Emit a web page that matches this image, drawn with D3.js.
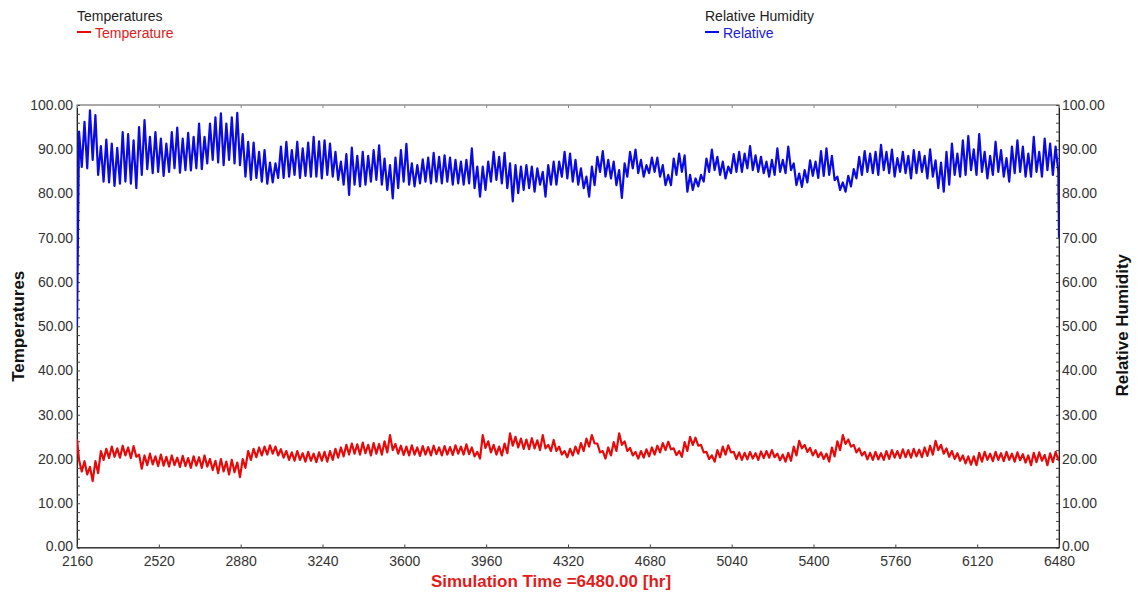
<!DOCTYPE html>
<html><head><meta charset="utf-8">
<script src="https://cdn.jsdelivr.net/npm/d3@7"></script>
<style>body{margin:0;background:#fff} svg{display:block;font-family:"Liberation Sans",Arial,sans-serif}</style>
</head><body><svg id="c" width="1138" height="595"></svg>
<script>
// ---- data ----
const xTicks = [2160,2520,2880,3240,3600,3960,4320,4680,5040,5400,5760,6120,6480];
const yTicks = [0,10,20,30,40,50,60,70,80,90,100];
const startHour = 2160, endHour = 6480;

// one value per simulated day (180 days), daily peak and daily trough
const humidityDailyMax = [
94,96.2,98.8,97.7,90.7,92.2,91.3,90.3,93.9,93.4,92,95,96.6,92.8,93.9,92.4,91.3,93.9,94.9,92.4,
93.7,92.8,95.8,92.8,95.8,97.2,98.1,95.8,97.2,98.2,93.4,91.7,91.5,89.4,89.8,87,86.8,90.6,91.7,89.8,
91.7,90.2,91.5,92.8,91.8,
92,91.3,89.4,87.2,88.9,90.4,88.5,89.4,88.5,89.8,90.9,87.9,86.4,88.1,89.8,91.2,86.8,86.4,87.7,88.1,
89.2,88.3,88.6,88.1,87.6,87.2,87.6,90.2,86.1,86.1,87.2,89.4,88.3,89.2,86.8,86.4,86.1,86.4,86.1,85.7,
84.9,86.4,87.2,87.2,
89.4,89,87.6,85.7,83.8,86.1,88.3,89.6,87.6,87.2,85.3,86.8,89.4,89.9,87.6,86.4,88.1,88.1,86.4,84.2,
87.9,89,88.6,84.2,83.4,84.2,87.9,89.9,88.3,87.2,86.1,88.9,89.4,89,90.7,88.6,88.3,87.2,87.6,90.2,
87.6,90.6,86.8,84.5,
85.3,87.5,87.2,89.6,90.2,88.5,83.8,82.5,84,85.5,88.3,89.6,89,89.4,91,89.4,89.9,88,89.4,88.5,
89.8,89.4,88.5,90,87.5,87,89.4,91.3,89,92,93,90,93.4,89.4,88.5,91.7,89.8,88,90.6,92,
90.6,89,92.8,89.4,92.4,91.3,90.6];
const humidityDailyMin = [
86,85.7,87.6,84.2,82.7,82.5,81.7,82.2,82.7,82.2,81.2,84.2,85.5,84.6,84.9,84,84.9,85.7,84.7,85.3,
85.2,85.7,85.5,86.8,87.6,87,86.4,87.6,86.8,86.4,83.8,83.1,83.5,82.7,82.2,82.5,83.5,83.5,83.8,84.2,
83.5,84,83.8,83.8,83.4,
84.2,83.8,83.1,82,79.7,82,81.6,82,82.7,83.1,82,80.8,78.9,81.2,82.7,82,81.6,82.3,82.7,82.3,
82.7,82.3,82.7,82,82.3,82,82.3,81.2,79.3,80.8,82.7,83.1,82.3,81.2,78.2,80.1,80.8,81.2,80.4,82,
79.3,82,82,83.8,
83.4,82.7,82,81.2,79.3,81.9,84.9,83.8,83.4,81.9,79,83.8,85.7,84.6,83.8,84.6,84.9,83.8,81.9,81.9,
84.2,84.9,80.4,80.8,81.6,82.7,84.9,85.3,84.2,83.4,84.6,84.9,84.9,85.7,85.3,84.9,84.6,83.8,84.2,84.9,
84.6,85.3,81.9,81.5,
82.5,84,83.5,84,84.2,83,80.8,80.4,81.6,83.4,84.2,84.9,84.6,84.2,85.3,84.6,83.8,84.9,84.6,83.4,
84.6,84.9,83.4,83.8,81.2,80.4,82,84.2,83.8,84.2,85.3,84.2,84.9,83.4,84.2,84.9,83.8,82.7,84.6,84.9,
83.8,83.8,84.9,83.8,85.3,84.2,85];
const humidityFirst = 50, humidityLast = 70;

const temperatureDailyMax = [
19.8,19.5,18.2,19.5,21.8,22.3,22.8,22.4,23.0,22.6,22.9,21.0,20.8,21.2,20.6,21.0,20.5,20.8,20.3,20.7,
20.2,20.6,20.4,20.8,20.0,19.6,20.0,19.4,19.8,19.2,20.0,21.8,22.3,22.6,22.8,23.1,22.8,22.2,21.8,21.5,
21.8,21.3,21.6,21.2,21.5,
21.6,21.8,22.3,22.6,23.2,23.5,23.3,23.7,23.2,23.6,23.4,24.0,25.4,23.4,23.0,22.8,23.1,22.6,22.9,22.7,
23.0,22.6,22.9,22.7,23.1,22.8,23.3,22.6,21.6,25.4,24.0,23.2,22.8,23.5,25.8,25.0,24.6,24.4,24.7,24.2,
25.4,23.2,24.3,22.8,
21.8,22.3,22.8,23.6,24.6,25.4,23.5,21.8,22.6,23.8,25.8,24.0,22.5,21.6,21.8,22.2,22.6,23.0,23.6,23.9,
22.4,21.8,23.8,25.0,24.8,23.2,21.6,20.8,22.0,22.8,23.1,21.6,21.5,21.4,21.6,21.3,21.7,21.8,22.0,21.2,
21.0,21.4,22.8,24.1,
23.2,22.5,22.0,21.5,21.2,22.6,24.0,25.4,24.4,23.2,22.4,21.6,21.4,21.6,21.3,21.8,22.0,21.8,22.2,22.0,
22.3,22.1,22.6,23.0,24.1,23.2,22.4,21.8,21.3,20.8,20.6,20.6,21.4,21.6,21.2,21.6,21.3,21.6,21.2,21.5,
21.1,20.8,21.4,21.5,20.9,21.3,21.6];
const temperatureDailyMin = [
17.2,16.5,15.0,16.8,19.8,20.2,20.5,20.3,20.8,20.2,20.5,17.8,18.6,18.8,18.4,18.5,18.3,18.6,18.2,18.4,
18.0,18.5,18.0,18.3,17.5,16.8,17.2,16.5,17.0,15.9,18.0,19.8,20.4,20.8,21.0,21.2,20.8,20.3,19.8,19.6,
19.8,19.4,19.6,19.3,19.6,
19.4,19.8,20.3,20.6,21.0,21.2,21.0,21.3,20.8,21.2,21.0,21.5,22.0,21.2,20.9,20.8,21.0,20.7,21.0,20.8,
21.1,20.8,21.0,20.9,21.2,21.0,21.1,20.6,20.1,22.5,21.5,21.0,20.8,21.3,23.0,22.6,22.3,22.2,22.4,22.0,
22.4,21.8,21.8,21.0,
20.4,20.8,21.2,21.8,22.8,23.5,21.5,20.1,20.8,21.8,23.2,21.8,20.8,20.1,20.3,20.6,21.0,21.5,22.0,22.2,
20.9,20.5,21.8,23.2,23.0,21.5,20.0,19.4,20.4,21.0,21.5,20.0,19.8,19.9,20.1,19.8,20.2,20.3,20.4,19.7,
19.4,19.6,20.8,22.4,
21.6,20.8,20.4,20.0,19.4,20.6,22.0,23.4,22.8,21.5,20.8,19.9,19.8,19.9,19.8,20.0,20.3,20.2,20.4,20.3,
20.6,20.4,20.7,21.0,22.0,21.2,20.5,20.0,19.6,19.0,18.7,18.6,19.4,19.8,19.5,19.8,19.5,19.8,19.4,19.7,
19.2,18.6,19.3,19.6,18.6,19.3,19.8];
const temperatureFirst = 24.5, temperatureLast = 20.5;

// ---- layout ----
const L = 77, R = 1059, T = 105, B = 547.5;
const svg = d3.select("#c");
const x = d3.scaleLinear().domain([startHour, endHour]).range([L, R]);
const y = d3.scaleLinear().domain([0, 100]).range([B, T]);   // temperatures
const y2 = d3.scaleLinear().domain([0, 100]).range([B, T]);  // relative humidity

function series(first, maxs, mins, last) {
  const pts = [{t: startHour, v: first}];
  maxs.forEach((v, i) => {
    pts.push({t: startHour + 24 * i + 9, v: v});
    pts.push({t: startHour + 24 * i + 21, v: mins[i]});
  });
  pts.push({t: endHour, v: last});
  return pts;
}
const hum = series(humidityFirst, humidityDailyMax, humidityDailyMin, humidityLast);
const tmp = series(temperatureFirst, temperatureDailyMax, temperatureDailyMin, temperatureLast);

svg.append("defs").append("clipPath").attr("id","clip")
  .append("rect").attr("x", L).attr("y", T - 2).attr("width", R - L).attr("height", B - T + 2);

// frame
svg.append("rect").attr("x", L).attr("y", T).attr("width", R - L).attr("height", B - T)
  .attr("fill", "none").attr("stroke", "#555").attr("stroke-width", 1);

const fmt = d3.format(".2f");
const tickFont = g => g.selectAll("text").attr("font-size", 14).attr("fill", "#333")
  .attr("font-family", "'Liberation Sans', Arial, sans-serif");
const liftZero = g => g.selectAll(".tick").filter(d => d === 0).select("text").attr("dy", "0.18em");

// left axis
const gl = svg.append("g").attr("transform", `translate(${L},0)`)
  .call(d3.axisLeft(y).tickValues(yTicks).tickFormat(fmt).tickSize(0).tickPadding(4));
gl.select(".domain").attr("stroke", "#222");
tickFont(gl); liftZero(gl);
svg.append("g").attr("transform", `translate(${L},0)`)
  .call(d3.axisRight(y).ticks(40).tickFormat("").tickSize(3))
  .call(g => { g.select(".domain").remove(); g.selectAll("line").attr("stroke", "#444"); });

// right axis
const gr = svg.append("g").attr("transform", `translate(${R},0)`)
  .call(d3.axisRight(y2).tickValues(yTicks).tickFormat(fmt).tickSize(0).tickPadding(3));
gr.select(".domain").attr("stroke", "#222");
tickFont(gr); liftZero(gr);
svg.append("g").attr("transform", `translate(${R},0)`)
  .call(d3.axisLeft(y2).ticks(40).tickFormat("").tickSize(3))
  .call(g => { g.select(".domain").remove(); g.selectAll("line").attr("stroke", "#444"); });

// bottom axis
const gb = svg.append("g").attr("transform", `translate(0,${B})`)
  .call(d3.axisBottom(x).tickValues(xTicks).tickFormat(d3.format("d")).tickSize(0).tickPadding(8.5));
gb.select(".domain").attr("stroke", "#222");
tickFont(gb);
svg.append("g").attr("transform", `translate(0,${B})`)
  .call(d3.axisTop(x).tickValues(xTicks).tickFormat("").tickSize(3))
  .call(g => { g.select(".domain").remove(); g.selectAll("line").attr("stroke", "#444"); });
svg.append("g").attr("transform", `translate(0,${T})`)
  .call(d3.axisBottom(x).tickValues(xTicks).tickFormat("").tickSize(3))
  .call(g => { g.select(".domain").remove(); g.selectAll("line").attr("stroke", "#888"); });

// lines
const lineT = d3.line().x(d => x(d.t)).y(d => y(d.v));
const lineH = d3.line().x(d => x(d.t)).y(d => y2(d.v));
const plot = svg.append("g").attr("clip-path", "url(#clip)");
plot.append("path").datum(hum).attr("d", lineH).attr("fill", "none")
  .attr("stroke", "#0a0ae6").attr("stroke-width", 2.2).attr("stroke-linejoin", "round");
plot.append("path").datum(tmp).attr("d", lineT).attr("fill", "none")
  .attr("stroke", "#e60a0a").attr("stroke-width", 2.2).attr("stroke-linejoin", "round");

// legends
const legend = [
  {x: 77, title: "Temperatures", label: "Temperature", color: "#e60a0a", tcolor: "#e02020"},
  {x: 705, title: "Relative Humidity", label: "Relative", color: "#0a0ae6", tcolor: "#2020d0"}
];
legend.forEach(l => {
  svg.append("text").attr("x", l.x).attr("y", 20.5).attr("font-size", 14).attr("fill", "#222").text(l.title);
  svg.append("line").attr("x1", l.x).attr("x2", l.x + 14).attr("y1", 32).attr("y2", 32)
    .attr("stroke", l.color).attr("stroke-width", 2);
  svg.append("text").attr("x", l.x + 18).attr("y", 38).attr("font-size", 14).attr("fill", l.tcolor).text(l.label);
});

// axis titles
svg.append("text").attr("transform", `translate(24,${(T + B) / 2}) rotate(-90)`)
  .attr("text-anchor", "middle").attr("font-size", 17).attr("font-weight", "bold").attr("fill", "#111")
  .text("Temperatures");
svg.append("text").attr("transform", `translate(1128,${(T + B) / 2 - 1}) rotate(-90)`)
  .attr("text-anchor", "middle").attr("font-size", 17).attr("font-weight", "bold").attr("fill", "#111")
  .text("Relative Humidity");
svg.append("text").attr("x", 551).attr("y", 587).attr("text-anchor", "middle")
  .attr("font-size", 17).attr("font-weight", "bold").attr("fill", "#e31b1b")
  .text("Simulation Time =6480.00 [hr]");
</script></body></html>
